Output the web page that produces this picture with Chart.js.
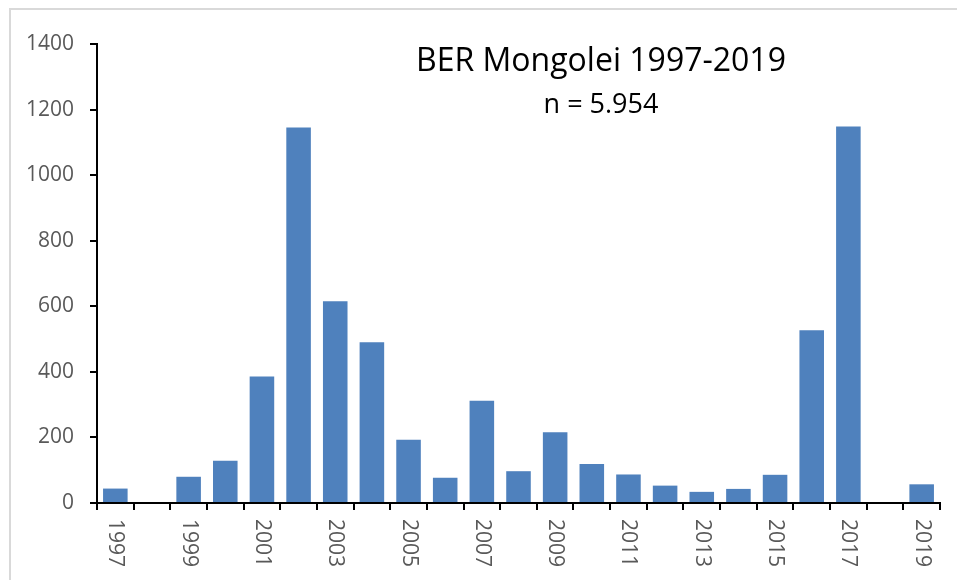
<!DOCTYPE html>
<html>
<head>
<meta charset="utf-8">
<script src="https://cdn.jsdelivr.net/npm/chart.js@4/dist/chart.umd.min.js"></script>
<style>
  html, body { margin: 0; padding: 0; background: #fff; overflow: hidden; }
  #frame { position: absolute; left: 9px; top: 8px; width: 1000px; height: 700px;
           border-top: 2px solid #d9d9d9; border-left: 2px solid #d9d9d9; }
  #chart { position: absolute; left: 0; top: 0; }
</style>
</head>
<body>
<div id="frame"></div>
<canvas id="chart" width="957" height="580"></canvas>
<script>
const years = ['1997', '1998', '1999', '2000', '2001', '2002', '2003', '2004', '2005', '2006', '2007', '2008',
               '2009', '2010', '2011', '2012', '2013', '2014', '2015', '2016', '2017', '2018', '2019'];
const counts = [44, 0, 80, 129, 386, 1145, 615, 490, 193, 77, 312, 97,
                216, 119, 87, 53, 34, 43, 86, 527, 1148, 0, 57];
const titleText = 'BER Mongolei 1997-2019';
const subtitleText = 'n = 5.954';

const labelFont = '21px "Open Sans"';
const labelColor = '#595959';

// x labels read top-to-bottom (rotated clockwise), so they are drawn here
const overlay = {
  id: 'overlay',
  afterDraw(chart) {
    const ctx = chart.ctx;
    const xs = chart.scales.x;
    ctx.save();
    ctx.font = labelFont;
    ctx.fillStyle = labelColor;
    ctx.textAlign = 'left';
    ctx.textBaseline = 'middle';
    years.forEach((y, i) => {
      if (i % 2 !== 0) return;
      ctx.save();
      ctx.translate(xs.getPixelForTick(i), xs.top + 16);
      ctx.rotate(Math.PI / 2);
      ctx.fillText(y, 0, 0);
      ctx.restore();
    });

    ctx.fillStyle = '#000';
    ctx.textAlign = 'center';
    ctx.textBaseline = 'alphabetic';
    ctx.font = '32px "Open Sans"';
    ctx.fillText(titleText, 601, 71);
    ctx.font = '27px "Open Sans"';
    ctx.fillText(subtitleText, 601, 113);
    ctx.restore();
  }
};

new Chart(document.getElementById('chart'), {
  type: 'bar',
  data: {
    labels: years,
    datasets: [{
      data: counts,
      backgroundColor: '#4f81bd',
      borderWidth: 0,
      barPercentage: 0.67,
      categoryPercentage: 1
    }]
  },
  options: {
    responsive: false,
    animation: false,
    layout: { padding: { top: 44, right: 17, bottom: 0, left: 0 } },
    plugins: { legend: { display: false }, tooltip: { enabled: false } },
    scales: {
      x: {
        ticks: { display: false, autoSkip: false },
        grid: { drawOnChartArea: false, drawTicks: true, tickLength: 7, color: '#000', lineWidth: 2 },
        border: { display: true, color: '#000', width: 2 },
        afterFit(scale) { scale.height = 77; }
      },
      y: {
        min: 0,
        max: 1400,
        ticks: {
          stepSize: 200,
          color: labelColor,
          font: { family: 'Open Sans', size: 21 },
          padding: 16,
          callback: (v) => String(v)
        },
        grid: { drawOnChartArea: false, drawTicks: true, tickLength: 7, color: '#000', lineWidth: 2 },
        border: { display: true, color: '#000', width: 2 },
        afterFit(scale) { scale.width = 97; }
      }
    }
  },
  plugins: [overlay]
});
</script>
</body>
</html>
